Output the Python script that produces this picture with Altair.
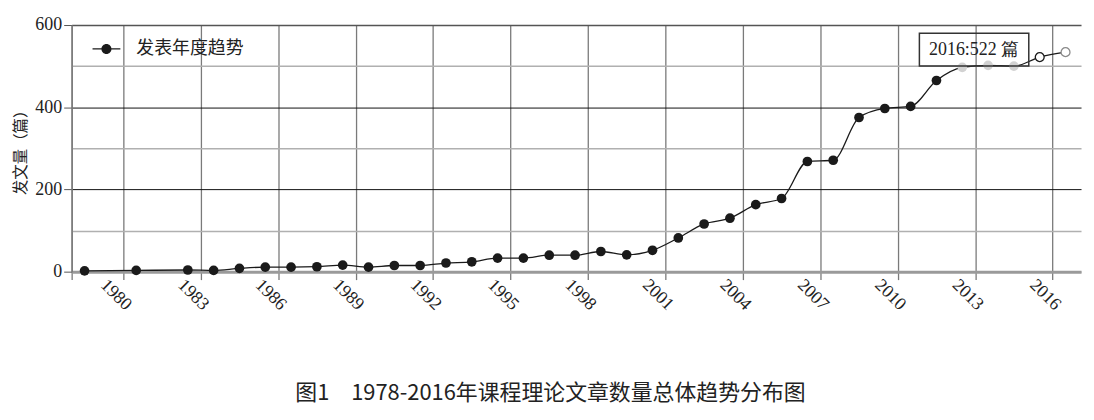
import altair as alt
import pandas as pd

# ---- data ----
years = [1978, 1980, 1982, 1983, 1984, 1985, 1986, 1987, 1988, 1989, 1990,
         1991, 1992, 1993, 1994, 1995, 1996, 1997, 1998, 1999, 2000,
         2001, 2002, 2003, 2004, 2005, 2006, 2007, 2008, 2009, 2010,
         2011, 2012, 2013, 2014, 2015, 2016]
counts = [2, 3, 4, 3, 8, 11, 11, 12, 16, 11, 15,
          15, 21, 24, 33, 33, 40, 40, 49, 41, 52,
          82, 116, 130, 163, 178, 268, 271, 375, 397, 402,
          465, 497, 502, 500, 522, 534]
series_name = "发表年度趋势"
x_tick_years = [1978, 1980, 1983, 1986, 1989, 1992, 1995, 1998, 2001, 2004,
                2007, 2010, 2013, 2016]
y_grid_values = list(range(0, 601, 50))
ann_year = [2015]
ann_value = [522]
ann_text = ["2016:522 篇"]
caption = "图1\u30001978-2016年课程理论文章数量总体趋势分布图"
y_title = "发文量（篇）"

df = pd.DataFrame({"year": years, "count": counts, "series": series_name})
ann = pd.DataFrame({"year": ann_year, "count": ann_value, "text": ann_text})

SERIF = "Liberation Serif"
CJK = "Noto Sans CJK SC"

x_enc = alt.X(
    "xpos:Q",
    scale=alt.Scale(domain=[1978, 2017.1], nice=False, zero=False),
    axis=alt.Axis(
        values=x_tick_years,
        title=None,
        labelExpr="datum.value === 1978 ? '' : datum.value + ''",
        labelAngle=45,
        labelAlign="center",
        labelBaseline="middle",
        labelOffset=-8,
        labelPadding=15,
        labelFont=SERIF,
        labelFontSize=18,
        labelColor="#222",
        tickSize=8,
        tickColor="#7a7a7a",
        tickWidth=1.3,
        grid=True,
        gridColor="#7a7a7a",
        gridWidth=1.3,
        domainColor="#9a9a9a",
        domainWidth=3,
    ),
)
y_enc = alt.Y(
    "count:Q",
    scale=alt.Scale(domain=[0, 600], nice=False),
    axis=alt.Axis(
        values=y_grid_values,
        title=y_title,
        titleFont=CJK,
        titleFontSize=15.5,
        titleFontWeight="normal",
        titleColor="#222",
        titlePadding=6,
        labelExpr="datum.value % 200 === 0 ? datum.label : ''",
        labelFont=SERIF,
        labelFontSize=18,
        labelColor="#222",
        labelPadding=2,
        tickSize=8,
        tickColor="#555",
        tickOpacity={"condition": {"test": "datum.value % 200 === 0", "value": 1}, "value": 0},
        grid=True,
        gridColor={
            "condition": [
                {"test": "datum.value === 0", "value": "#9a9a9a"},
                {"test": "datum.value === 600", "value": "#555555"},
                {"test": "datum.value % 200 === 0", "value": "#111111"},
            ],
            "value": "#b0b0b0",
        },
        gridWidth={
            "condition": [
                {"test": "datum.value % 200 === 0 && datum.value !== 600", "value": 1},
            ],
            "value": 1.5,
        },
        domainColor="#7a7a7a",
        domainWidth=1.5,
    ),
)

base = alt.Chart(df).transform_calculate(xpos="datum.year + 0.5")

line = base.mark_line(interpolate="monotone", color="#1a1a1a", strokeWidth=1.3).encode(
    x=x_enc, y=y_enc
)

legend_path = ("M-1,-0.05H1V0.05H-1Z "
               "M0.36,0A0.36,0.36 0 1,1 -0.36,0A0.36,0.36 0 1,1 0.36,0Z")

dots = base.transform_filter("datum.year <= 2011").mark_circle(size=95, opacity=1).encode(
    x="xpos:Q",
    y="count:Q",
    color=alt.Color(
        "series:N",
        scale=alt.Scale(range=["#1a1a1a"]),
        legend=alt.Legend(
            title=None,
            orient="none",
            legendX=21,
            legendY=10,
            padding=0,
            symbolType=legend_path,
            symbolSize=784,
            symbolStrokeWidth=0,
            labelFont=CJK,
            labelFontSize=18,
            labelColor="#222",
            labelOffset=16,
        ),
    ),
)

gray_dots = base.transform_filter("datum.year >= 2012 && datum.year <= 2014").mark_circle(
    size=95, opacity=1, color="#d2d2d2"
).encode(x="xpos:Q", y="count:Q")

open_dots = base.transform_filter("datum.year >= 2015").mark_point(
    size=80, opacity=1, filled=False, fill="white", strokeWidth=1.3
).encode(
    x="xpos:Q",
    y="count:Q",
    stroke=alt.condition("datum.year === 2015", alt.value("#1a1a1a"), alt.value("#8a8a8a")),
)

ann_base = alt.Chart(ann).transform_calculate(xpos="datum.year + 0.5")
ann_box = ann_base.mark_rect(
    width=110, height=33, xOffset=-66, yOffset=-7.5,
    fill="transparent", stroke="#333", strokeWidth=1.5
).encode(x="xpos:Q", y="count:Q")
ann_label = ann_base.mark_text(
    font=SERIF, fontSize=18, color="#222", dx=-66, dy=-7.5,
    align="center", baseline="middle"
).encode(x="xpos:Q", y="count:Q", text="text:N")

chart = alt.layer(line, gray_dots, ann_box, dots, open_dots, ann_label).properties(
    width=1015,
    height=248,
    padding={"left": 64, "top": 16, "right": 5, "bottom": 140},
    autosize=alt.AutoSizeParams(type="none"),
    title=alt.TitleParams(
        text=caption,
        orient="bottom",
        anchor="middle",
        dx=-26,
        offset=70,
        font=CJK,
        fontSize=22,
        fontWeight="normal",
        color="#222",
    ),
).configure_view(stroke=None)

chart.save("out.html", embed_options={"renderer": "svg", "actions": False})
